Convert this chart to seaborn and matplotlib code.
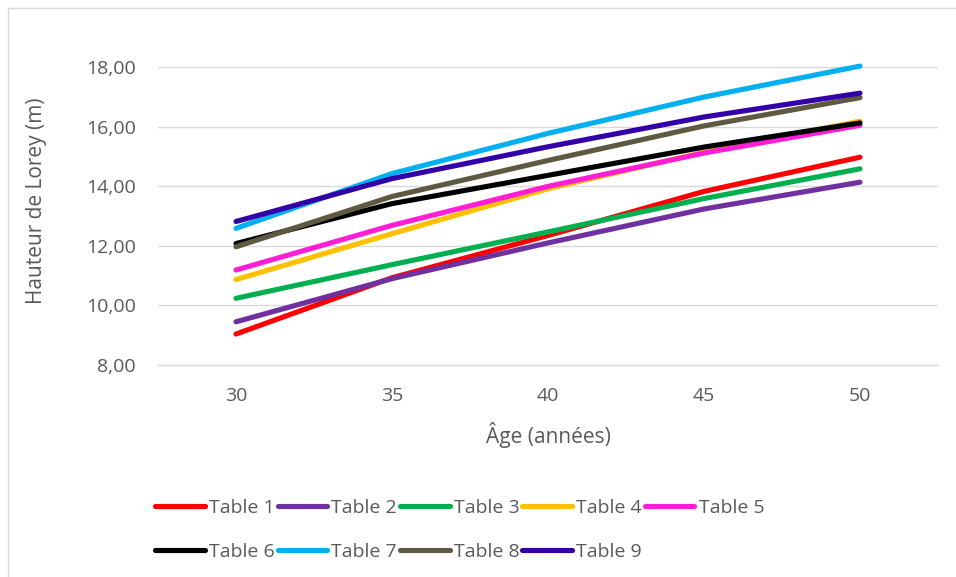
import matplotlib
matplotlib.use("Agg")
import matplotlib.pyplot as plt
from matplotlib.lines import Line2D
import numpy as np
import pandas as pd
import seaborn as sns

# Stand age classes (years)
ages = [30, 35, 40, 45, 50]
age_labels = ["30", "35", "40", "45", "50"]

# Lorey's mean height (m) per yield table
table_1 = [9.04, 10.93, 12.35, 13.83, 14.98]
table_2 = [9.45, 10.90, 12.10, 13.24, 14.14]
table_3 = [10.24, 11.37, 12.47, 13.59, 14.59]
table_4 = [10.87, 12.41, 13.92, 15.15, 16.19]
table_5 = [11.19, 12.69, 14.00, 15.12, 16.05]
table_6 = [12.08, 13.42, 14.37, 15.32, 16.13]
table_7 = [12.59, 14.43, 15.78, 17.00, 18.04]
table_8 = [11.97, 13.66, 14.87, 16.03, 16.98]
table_9 = [12.82, 14.26, 15.33, 16.33, 17.13]

series_names = ["Table 1", "Table 2", "Table 3", "Table 4", "Table 5",
                "Table 6", "Table 7", "Table 8", "Table 9"]
series_values = [table_1, table_2, table_3, table_4, table_5,
                 table_6, table_7, table_8, table_9]
colors = ["#FF0000", "#7030A0", "#00B050", "#FFC000", "#FF1ED6",
          "#000000", "#00B0F0", "#5E5A42", "#3300A8"]

y_ticks = [8, 10, 12, 14, 16, 18]

rows = []
for name, vals in zip(series_names, series_values):
    for i, v in enumerate(vals):
        rows.append({"pos": i, "age": ages[i], "table": name, "height": v})
df = pd.DataFrame(rows)

sns.set_theme(style="white")
plt.rcParams["font.family"] = ["Open Sans", "DejaVu Sans"]

text_col = "#595959"
grid_col = "#D9D9D9"
tick_fs = 14.0
title_fs = 15.0

fig = plt.figure(figsize=(9.56, 5.77), dpi=100)
ax = fig.add_axes([158 / 956, 1 - 365 / 577, (938 - 158) / 956, (365 - 37.5) / 577])

palette = dict(zip(series_names, colors))
sns.lineplot(data=df, x="pos", y="height", hue="table", palette=palette,
             hue_order=series_names, linewidth=3.7, legend=False, ax=ax,
             solid_capstyle="round", sort=False)

ax.set_xlim(-0.5, len(ages) - 0.5)
ax.set_ylim(8, 19)

# horizontal gridlines
ax.set_yticks(y_ticks)
ax.set_yticklabels([f"{t:.2f}".replace(".", ",") for t in y_ticks])
ax.yaxis.grid(True, color=grid_col, linewidth=1.0)
ax.set_axisbelow(True)
ax.tick_params(axis="y", length=0, pad=16, labelsize=tick_fs, labelcolor=text_col)

# category axis: labels centred, tick marks between categories
ax.set_xticks(range(len(ages)))
ax.set_xticklabels(age_labels)
ax.set_xticks(np.arange(-0.5, len(ages)), minor=True)
ax.tick_params(axis="x", which="major", length=0, pad=16, labelsize=tick_fs,
               labelcolor=text_col)
ax.tick_params(axis="x", which="minor", length=6, width=1.0, color=grid_col,
               direction="out")

for side in ["top", "right", "left"]:
    ax.spines[side].set_visible(False)
ax.spines["bottom"].set_color(grid_col)
ax.spines["bottom"].set_linewidth(1.0)

ax.set_xlabel("Âge (années)", fontsize=title_fs, color=text_col, labelpad=12)
ax.set_ylabel("Hauteur de Lorey (m)", fontsize=title_fs, color=text_col, labelpad=28)

# legend: five columns, filled row by row
handles = [Line2D([0], [0], color=c, linewidth=3.7, solid_capstyle="round")
           for c in colors]
order = [0, 5, 1, 6, 2, 7, 3, 8, 4]
leg = fig.legend([handles[i] for i in order], [series_names[i] for i in order],
                 ncol=5, loc="upper left", bbox_to_anchor=(155 / 956, 1 - 499 / 577),
                 frameon=False, fontsize=tick_fs, handlelength=2.55,
                 handletextpad=0.22, columnspacing=0.15, labelspacing=1.35,
                 borderpad=0, borderaxespad=0)
for t in leg.get_texts():
    t.set_color(text_col)

# chart frame (left and top edges)
fig.add_artist(Line2D([8 / 956, 8 / 956], [0, 1 - 8 / 577], color=grid_col,
                      linewidth=1.0, transform=fig.transFigure))
fig.add_artist(Line2D([8 / 956, 1], [1 - 8 / 577, 1 - 8 / 577], color=grid_col,
                      linewidth=1.0, transform=fig.transFigure))

fig.savefig("out.png", dpi=100, facecolor="white")
